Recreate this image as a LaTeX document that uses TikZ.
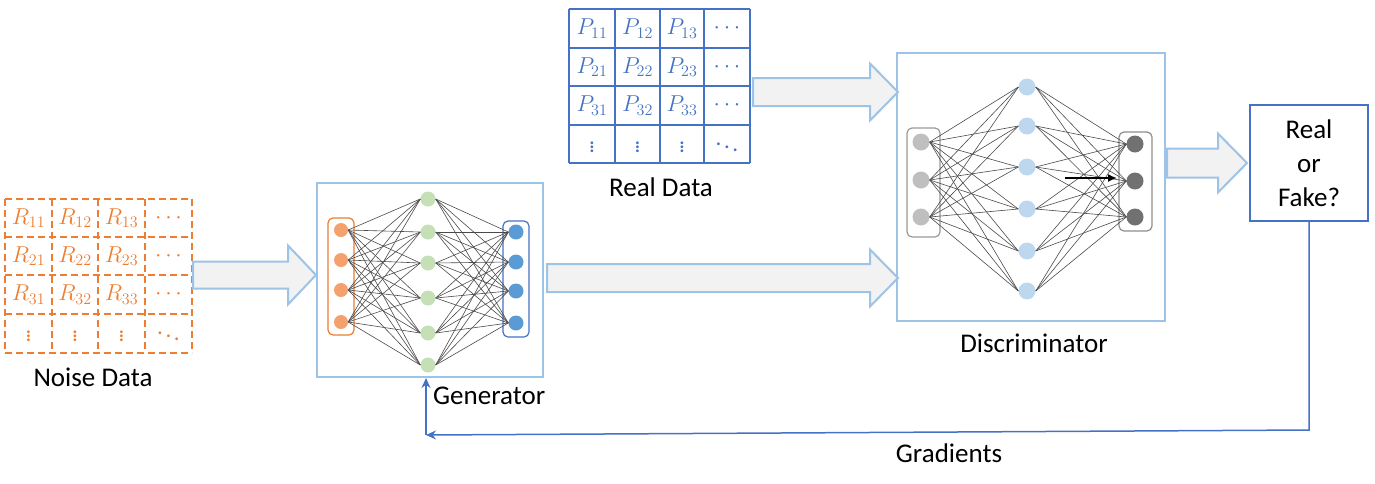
\RequirePackage{fix-cm}
\documentclass[tikz,border=0pt]{standalone}
\usepackage{fontspec}
\setmainfont{Carlito}
\usetikzlibrary{arrows.meta}
\definecolor{orng}{HTML}{ED7D31}
\definecolor{orngnode}{HTML}{F4A16E}
\definecolor{dblue}{HTML}{4472C4}
\definecolor{lblue}{HTML}{9DC3E6}
\definecolor{grn}{HTML}{C5E0B4}
\definecolor{bnode}{HTML}{5B9BD5}
\definecolor{bnodel}{HTML}{BDD7EE}
\definecolor{grayin}{HTML}{BFBFBF}
\definecolor{grayout}{HTML}{717171}
\definecolor{arrfill}{HTML}{F2F2F2}
\definecolor{edgec}{HTML}{4A4A4A}
\tikzset{
  lbl/.style={font=\fontsize{27}{30}\selectfont, inner sep=0pt},
  cell/.style={font=\fontsize{23}{26}\selectfont, inner sep=0pt},
  neuron/.style={circle, inner sep=0pt, minimum size=#1},
  barrow/.style={draw=lblue, line width=2pt, fill=arrfill, line join=miter},
  nnedge/.style={draw=edgec, line width=0.6pt},
  frame/.style={draw=lblue, line width=2pt, inner sep=0pt},
  grouprect/.style={rounded corners=5pt, line width=1.2pt},
  gradline/.style={draw=dblue, line width=1.5pt},
}
\newcommand\blockarrow[6]{%
  \draw[barrow] (#1,#4-#5) -- (#2,#4-#5) -- (#2,#4-#6) -- (#3,#4) -- (#2,#4+#6) -- (#2,#4+#5) -- (#1,#4+#5) -- cycle;}
\newcommand\cellmath[1]{\ensuremath{\displaystyle #1}}
\begin{document}
\begin{tikzpicture}[x=1pt,y=-1pt]
\useasboundingbox (0,0) rectangle (1375,483);

% ---------- Noise data grid ----------
\begin{scope}[orng, line width=1.5pt, dash pattern=on 7pt off 4pt]
  \foreach \x in {5,52,98,145,192} \draw (\x,199) -- (\x,353);
  \foreach \y in {199,237,275,314,353} \draw (5,\y) -- (192,\y);
\end{scope}
\foreach \r/\y in {1/218,2/256,3/294.5}{
  \foreach \c/\x in {1/28.5,2/75,3/121.5}{
    \node[cell, text=orng] (R\r\c) at (\x,\y) {$R_{\r\c}$};
  }
  \node[cell, text=orng] (R\r4) at (168.5,\y) {$\cdots$};
}
\foreach \c/\x in {1/28.5,2/75,3/121.5}{
  \node[cell, text=orng] (R4\c) at (\x,333.5) {$\vdots$};
}
\node[cell, text=orng] (R44) at (168.5,333.5) {$\ddots$};
\node[lbl] (noiselbl) at (93,377) {Noise Data};

% ---------- Real data grid ----------
\begin{scope}[dblue, line width=1.5pt]
  \foreach \x in {569,615,660,704,750} \draw (\x,9) -- (\x,163);
  \foreach \y in {9,48,86,125,163} \draw (569,\y) -- (750,\y);
\end{scope}
\foreach \r/\y in {1/28.5,2/67,3/105.5}{
  \foreach \c/\x in {1/592,2/637.5,3/682}{
    \node[cell, text=dblue] (P\r\c) at (\x,\y) {$P_{\r\c}$};
  }
  \node[cell, text=dblue] (P\r4) at (727,\y) {$\cdots$};
}
\foreach \c/\x in {1/592,2/637.5,3/682}{
  \node[cell, text=dblue] (P4\c) at (\x,144) {$\vdots$};
}
\node[cell, text=dblue] (P44) at (727,144) {$\ddots$};
\node[lbl] (reallbl) at (661,187) {Real Data};

% ---------- Block arrows ----------
\blockarrow{193}{288}{316}{275}{13.5}{29.5}
\blockarrow{547}{870}{898}{278}{14}{28.5}
\blockarrow{753}{870}{898}{92}{14}{28.5}
\blockarrow{1167}{1218}{1247}{163}{14.5}{29.5}

% ---------- Generator ----------
\node[frame, minimum width=226pt, minimum height=194pt] (gen) at (430,280) {};
\draw[grouprect, draw=orng] (328,218) rectangle (354,335);
\draw[grouprect, draw=dblue] (503,221) rectangle (529,337);
\foreach \i/\y in {1/230,2/260,3/290,4/322}
  \node[neuron=14pt, fill=orngnode] (gi\i) at (341,\y) {};
\foreach \i/\y in {1/199,2/232,3/263,4/298,5/333,6/365}
  \node[neuron=15pt, fill=grn] (gh\i) at (428,\y) {};
\foreach \i/\y in {1/232,2/262,3/291,4/323}
  \node[neuron=15pt, fill=bnode] (go\i) at (516,\y) {};
\foreach \i in {1,...,4}
  \foreach \j in {1,...,6}
    \draw[nnedge] (gi\i.east) -- (gh\j.west);
\foreach \j in {1,...,6}
  \foreach \k in {1,...,4}
    \draw[nnedge] (gh\j.east) -- (go\k.west);
\node[lbl, anchor=west] (genlbl) at (433,396) {Generator};

% ---------- Discriminator ----------
\node[frame, minimum width=268pt, minimum height=268pt] (disc) at (1031,187) {};
\draw[grouprect, draw=grayin!80!black] (907,128) rectangle (940,237);
\draw[grouprect, draw=grayout!80] (1119,132) rectangle (1152,231);
\foreach \i/\y in {1/142,2/180,3/217}
  \node[neuron=17pt, fill=grayin] (di\i) at (921,\y) {};
\foreach \i/\y in {1/87,2/126,3/167,4/209,5/251,6/291}
  \node[neuron=17pt, fill=bnodel] (dh\i) at (1027,\y) {};
\foreach \i/\y in {1/144,2/181,3/217}
  \node[neuron=17pt, fill=grayout] (do\i) at (1135,\y) {};
\foreach \i in {1,...,3}
  \foreach \j in {1,...,6}
    \draw[nnedge] (di\i.east) -- (dh\j.west);
\foreach \j in {1,...,6}
  \foreach \k in {1,...,3}
    \draw[nnedge] (dh\j.east) -- (do\k.west);
\coordinate (ba1) at (1065,178);
\coordinate (ba2) at (1117,178);
\draw[black, line width=1.6pt, -{Latex[length=9pt,width=8pt]}] (ba1) -- (ba2);
\node[lbl] (disclbl) at (1034,343) {Discriminator};

% ---------- Real or Fake ----------
\node[draw=dblue, line width=2pt, minimum width=118pt, minimum height=116pt, align=center, lbl, inner sep=0pt] (rf) at (1309,163)
  {Real\\[4pt]or\\[4pt]Fake?};

% ---------- Gradients ----------
\coordinate (g1) at (1309,430);
\coordinate (g2) at (426,435);
\draw[gradline, -{Stealth[length=10pt,width=9pt]}] (rf.south) -- (g1) -- (g2);
\draw[gradline, -{Stealth[length=10pt,width=9pt]}] (g2) -- (g2 |- gen.south);
\node[lbl] (gradlbl) at (949,453) {Gradients};
\end{tikzpicture}
\end{document}
